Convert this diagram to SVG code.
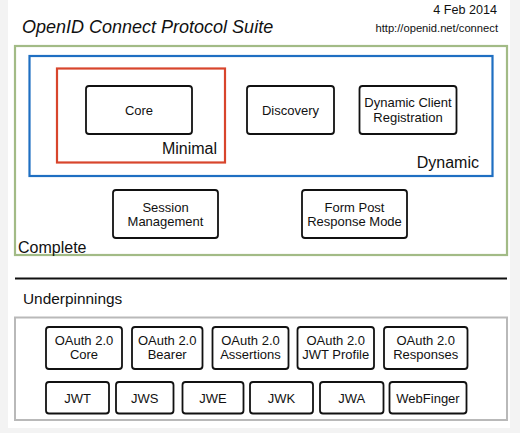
<svg xmlns="http://www.w3.org/2000/svg" width="520" height="433" viewBox="0 0 520 433">
<style>
text{font-family:"Liberation Sans",Arial,sans-serif;fill:#111}
.box{fill:#fff;stroke:#111;stroke-width:1.8}
.lbl{font-size:13px;text-anchor:middle}
.grp{font-size:16px}
</style>
<rect x="0" y="0" width="520" height="433" fill="#f3f3f3"/>
<rect x="8" y="0" width="502" height="428" fill="#ffffff"/>
<g id="title">
<text x="22" y="33" font-size="18" font-style="italic">OpenID Connect Protocol Suite</text>
<text x="497" y="14" font-size="12.6" text-anchor="end">4 Feb 2014</text>
<text x="498" y="32" font-size="11.2" text-anchor="end">http://openid.net/connect</text>
</g>
<g id="complete">
<rect x="15" y="46" width="492" height="209" fill="none" stroke="#a2bb86" stroke-width="2.2"/>
<text class="grp" x="18" y="253" font-size="16.5">Complete</text>
</g>
<g id="dynamic">
<rect x="29.5" y="56" width="463" height="120" fill="none" stroke="#1f6fc2" stroke-width="2.2"/>
<text class="grp" x="479" y="168" text-anchor="end">Dynamic</text>
</g>
<g id="minimal">
<rect x="57" y="68.5" width="168" height="94" fill="none" stroke="#d8452c" stroke-width="2.2"/>
<text class="grp" x="217" y="154" text-anchor="end">Minimal</text>
</g>
<g id="core"><rect class="box" x="86" y="86" width="106" height="48" rx="3"/><text class="lbl" x="139" y="115" font-size="14.5">Core</text></g>
<g id="discovery"><rect class="box" x="247" y="86" width="87" height="48" rx="3"/><text class="lbl" x="290.5" y="114.5">Discovery</text></g>
<g id="dcr"><rect class="box" x="359.5" y="86" width="97" height="48" rx="3"/><text class="lbl" x="408" y="107">Dynamic Client</text><text class="lbl" x="408" y="121.5">Registration</text></g>
<g id="session"><rect class="box" x="113" y="190" width="105" height="48" rx="3"/><text class="lbl" x="165.5" y="211.5">Session</text><text class="lbl" x="165.5" y="226">Management</text></g>
<g id="formpost"><rect class="box" x="302" y="190" width="105" height="48" rx="3"/><text class="lbl" x="354.5" y="211.5">Form Post</text><text class="lbl" x="354.5" y="226">Response Mode</text></g>
<g id="divider"><line x1="15" y1="278.5" x2="507" y2="278.5" stroke="#111" stroke-width="2"/></g>
<g id="underpinnings">
<text x="23" y="303.5" font-size="15.4">Underpinnings</text>
<rect x="15" y="317.5" width="492" height="102.5" fill="none" stroke="#b9b9b9" stroke-width="2"/>
</g>
<g id="oauth-core"><rect class="box" x="46" y="327" width="76" height="42" rx="3"/><text class="lbl" x="84" y="345">OAuth 2.0</text><text class="lbl" x="84" y="359">Core</text></g>
<g id="oauth-bearer"><rect class="box" x="132" y="327" width="70.5" height="42" rx="3"/><text class="lbl" x="167.2" y="345">OAuth 2.0</text><text class="lbl" x="167.2" y="359">Bearer</text></g>
<g id="oauth-assertions"><rect class="box" x="212.5" y="327" width="76" height="42" rx="3"/><text class="lbl" x="250.5" y="345">OAuth 2.0</text><text class="lbl" x="250.5" y="359">Assertions</text></g>
<g id="oauth-jwt"><rect class="box" x="297.5" y="327" width="76.5" height="42" rx="3"/><text class="lbl" x="335.7" y="345">OAuth 2.0</text><text class="lbl" x="335.7" y="359">JWT Profile</text></g>
<g id="oauth-responses"><rect class="box" x="384" y="327" width="83.5" height="42" rx="3"/><text class="lbl" x="425.7" y="345">OAuth 2.0</text><text class="lbl" x="425.7" y="359">Responses</text></g>
<g id="jwt"><rect class="box" x="46" y="382" width="63" height="31.5" rx="3"/><text class="lbl" x="77.5" y="402.5">JWT</text></g>
<g id="jws"><rect class="box" x="116" y="382" width="57.5" height="31.5" rx="3"/><text class="lbl" x="144.7" y="402.5">JWS</text></g>
<g id="jwe"><rect class="box" x="182.5" y="382" width="61" height="31.5" rx="3"/><text class="lbl" x="213" y="402.5">JWE</text></g>
<g id="jwk"><rect class="box" x="250" y="382" width="63" height="31.5" rx="3"/><text class="lbl" x="281.5" y="402.5">JWK</text></g>
<g id="jwa"><rect class="box" x="320" y="382" width="63.5" height="31.5" rx="3"/><text class="lbl" x="351.7" y="402.5">JWA</text></g>
<g id="webfinger"><rect class="box" x="389.5" y="382" width="77" height="31.5" rx="3"/><text class="lbl" x="428" y="402.5">WebFinger</text></g>
</svg>
